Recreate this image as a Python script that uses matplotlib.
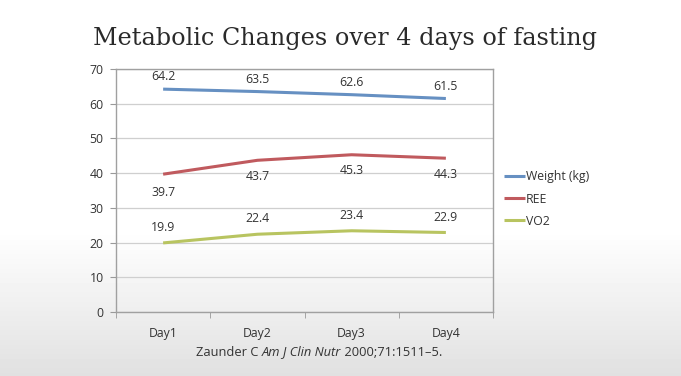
import matplotlib.pyplot as plt
import numpy as np

days = ["Day1", "Day2", "Day3", "Day4"]
weight = [64.2, 63.5, 62.6, 61.5]
ree = [39.7, 43.7, 45.3, 44.3]
vo2 = [19.9, 22.4, 23.4, 22.9]
series_names = ["Weight (kg)", "REE", "VO2"]
colors = ["#6690C2", "#C05A5E", "#B8C460"]

plt.rcParams["font.family"] = ["Open Sans", "DejaVu Sans"]
fs = 8.8

fig = plt.figure(figsize=(6.81, 3.76), dpi=100)

# background: white on top, fading to light grey at the bottom
bg = fig.add_axes([0, 0, 1, 1], zorder=-10)
grad = np.ones((376, 1))
rows = np.arange(376)
grad[:, 0] = np.clip((rows - 230) / 146.0, 0, 1)
bg.imshow(1 - 0.12 * grad, cmap="gray", vmin=0, vmax=1, aspect="auto",
          extent=[0, 1, 0, 1], origin="upper")
bg.axis("off")

ax = fig.add_axes([116/681, 1-312/376, (493-116)/681, (312-69)/376])
ax.set_facecolor("none")

x = np.arange(len(days))
data = [weight, ree, vo2]
for vals, name, c in zip(data, series_names, colors):
    ax.plot(x, vals, color=c, lw=2.2, label=name, solid_capstyle="butt")

# data labels
for i, v in enumerate(weight):
    ax.annotate(f"{v}", (x[i], v), xytext=(0, 9), textcoords="offset points",
                ha="center", va="center", fontsize=fs, color="#333333")
for i, v in enumerate(ree):
    off = -13.5 if i == 0 else -11.5
    ax.annotate(f"{v}", (x[i], v), xytext=(0, off), textcoords="offset points",
                ha="center", va="center", fontsize=fs, color="#333333")
for i, v in enumerate(vo2):
    ax.annotate(f"{v}", (x[i], v), xytext=(0, 11), textcoords="offset points",
                ha="center", va="center", fontsize=fs, color="#333333")

ax.set_xlim(-0.5, 3.5)
ax.set_ylim(0, 70)
ax.set_yticks(range(0, 71, 10))
ax.set_xticks(x)
ax.set_xticklabels(days)
ax.set_xticks(np.arange(-0.5, 4, 1), minor=True)
ax.tick_params(axis="x", which="major", length=0, pad=11, labelsize=fs, colors="#333333")
ax.tick_params(axis="x", which="minor", length=4, color="#999999")
ax.tick_params(axis="y", length=4, color="#999999", labelsize=fs, labelcolor="#333333", pad=5)
ax.grid(axis="y", color="#cfcfcf", lw=0.9)
ax.set_axisbelow(True)
for s in ax.spines.values():
    s.set_color("#a0a0a0")
    s.set_linewidth(1.0)

ax.legend(loc="center left", bbox_to_anchor=(1.0, 0.465), frameon=False,
          fontsize=fs, handlelength=1.7, handletextpad=0.1, labelspacing=0.75,
          labelcolor="#333333")

fig.text(345/681, 1-38/376, "Metabolic Changes over 4 days of fasting",
         ha="center", va="center", fontsize=17.2, family="DejaVu Serif",
         color="#2a2a2a")

t1 = fig.text(196/681, 1-352/376, "Zaunder C ", ha="left", va="center",
              fontsize=9.3, color="#333333")
t2 = ax.annotate("Am J Clin Nutr", xy=(1, 0), xycoords=t1, ha="left", va="bottom",
                 fontsize=9.3, style="italic", color="#333333")
t3 = ax.annotate(" 2000;71:1511\u20135.", xy=(1, 0), xycoords=t2, ha="left", va="bottom",
                 fontsize=9.3, color="#333333")

fig.savefig("out.png", dpi=100)
